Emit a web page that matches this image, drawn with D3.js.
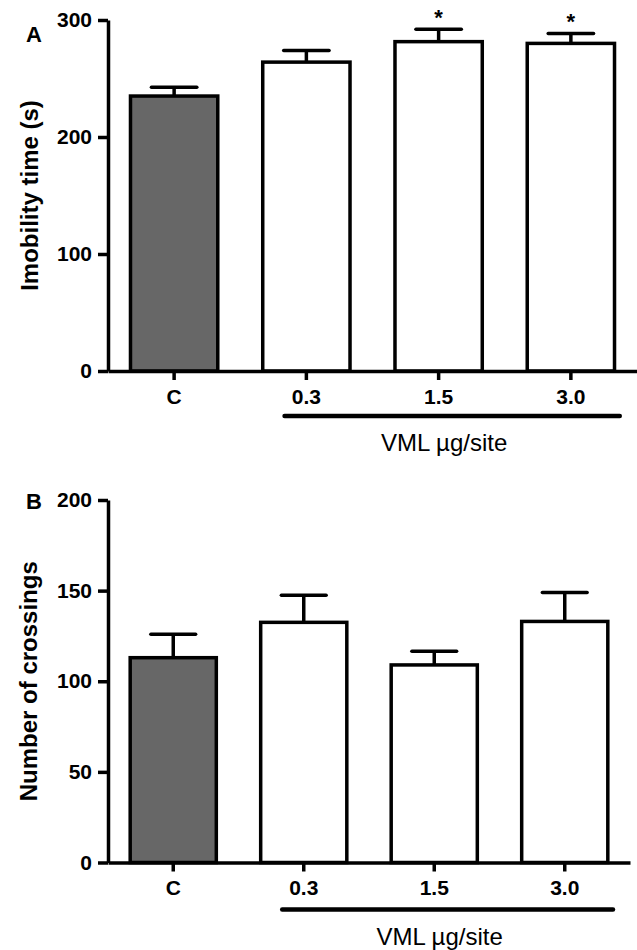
<!DOCTYPE html>
<html>
<head>
<meta charset="utf-8">
<script src="https://cdn.jsdelivr.net/npm/d3@7"></script>
<style>
  body { margin: 0; background: #fff; }
  svg { display: block; font-family: Arial, "Liberation Sans", sans-serif; }
</style>
</head>
<body>
<div id="chart"></div>
<script>
// groups along the x axis
const groups = ['C', '0.3', '1.5', '3.0'];

// panel A: immobility time (s)
const immobilityMean = [235, 264, 281.5, 280];
const immobilitySem = [7.5, 10, 10.5, 8.5];
const immobilityStars = ['', '', '*', '*'];
const immobilityTicks = [0, 100, 200, 300];

// panel B: number of crossings
const crossingsMean = [113, 132.5, 109, 133];
const crossingsSem = [13, 15, 7.5, 16];
const crossingsStars = ['', '', '', ''];
const crossingsTicks = [0, 50, 100, 150, 200];

const width = 637;
const height = 950;

const svg = d3.select('#chart')
    .append('svg')
    .attr('width', width)
    .attr('height', height);

function drawPanel(opts) {
    const g = svg.append('g');

    const x = d3.scaleBand()
        .domain(groups)
        .range([opts.left, opts.right])
        .paddingInner(0.34)
        .paddingOuter(0.17);

    const y = d3.scaleLinear()
        .domain([0, opts.max])
        .range([opts.bottom, opts.top]);

    const data = groups.map((k, i) => ({
        key: k, mean: opts.mean[i], sem: opts.sem[i], star: opts.stars[i]
    }));

    // bars
    g.selectAll('.bar')
        .data(data)
        .enter()
        .append('rect')
        .attr('class', 'bar')
        .attr('x', d => x(d.key))
        .attr('y', d => y(d.mean))
        .attr('width', x.bandwidth())
        .attr('height', d => y(0) - y(d.mean))
        .attr('fill', d => d.key === 'C' ? '#676767' : '#fff')
        .attr('stroke', '#000')
        .attr('stroke-width', 3.5);

    // error bars (upper only)
    const capW = x.bandwidth() * 0.52;
    data.forEach(d => {
        const cx = x(d.key) + x.bandwidth() / 2;
        g.append('line')
            .attr('x1', cx).attr('x2', cx)
            .attr('y1', y(d.mean)).attr('y2', y(d.mean + d.sem))
            .attr('stroke', '#000').attr('stroke-width', 3.5);
        g.append('line')
            .attr('x1', cx - capW / 2).attr('x2', cx + capW / 2)
            .attr('y1', y(d.mean + d.sem)).attr('y2', y(d.mean + d.sem))
            .attr('stroke', '#000').attr('stroke-width', 3.5)
            .attr('stroke-linecap', 'round');
        if (d.star) {
            g.append('text')
                .attr('x', cx)
                .attr('y', y(d.mean + d.sem) - 4)
                .attr('text-anchor', 'middle')
                .attr('font-size', 22)
                .attr('font-weight', 'bold')
                .text(d.star);
        }
    });

    // y axis
    const yAxis = g.append('g')
        .attr('transform', `translate(${opts.left},0)`)
        .call(d3.axisLeft(y).tickValues(opts.ticks).tickSize(10).tickSizeOuter(0).tickPadding(6));

    // x axis
    const xAxis = g.append('g')
        .attr('transform', `translate(0,${opts.bottom})`)
        .call(d3.axisBottom(x).tickSize(9).tickSizeOuter(0).tickPadding(9));

    [yAxis, xAxis].forEach(a => {
        a.select('.domain').attr('stroke', '#000').attr('stroke-width', 3.5);
        a.selectAll('.tick line').attr('stroke', '#000').attr('stroke-width', 3.5);
        a.selectAll('.tick text')
            .attr('fill', '#000')
            .attr('font-size', 21)
            .attr('font-weight', 'bold')
            .attr('font-family', 'Arial, "Liberation Sans", sans-serif');
    });

    // bracket under the VML doses
    const bx1 = x('0.3') + x.bandwidth() * 0.25;
    const bx2 = x('3.0') + x.bandwidth() * 1.06;
    g.append('line')
        .attr('x1', bx1).attr('x2', bx2)
        .attr('y1', opts.bottom + opts.bracketGap).attr('y2', opts.bottom + opts.bracketGap)
        .attr('stroke', '#000').attr('stroke-width', 4.5)
        .attr('stroke-linecap', 'round');

    g.append('text')
        .attr('x', (bx1 + bx2) / 2 - 8)
        .attr('y', opts.bottom + opts.bracketGap + 35)
        .attr('text-anchor', 'middle')
        .attr('font-size', 24)
        .text('VML \u00b5g/site');

    // y axis title
    g.append('text')
        .attr('transform', `translate(${opts.titleX},${(opts.top + opts.bottom) / 2}) rotate(-90)`)
        .attr('text-anchor', 'middle')
        .attr('font-size', 24)
        .attr('font-weight', 'bold')
        .text(opts.title);

    // panel letter
    g.append('text')
        .attr('x', 26)
        .attr('y', opts.letterY)
        .attr('font-size', 22)
        .attr('font-weight', 'bold')
        .text(opts.letter);
}

drawPanel({
    letter: 'A', letterY: 42,
    title: 'Imobility time (s)', titleX: 38,
    mean: immobilityMean, sem: immobilitySem, stars: immobilityStars,
    ticks: immobilityTicks, max: 300,
    left: 108, right: 637, top: 20, bottom: 371,
    bracketGap: 45
});

drawPanel({
    letter: 'B', letterY: 509,
    title: 'Number of crossings', titleX: 37,
    mean: crossingsMean, sem: crossingsSem, stars: crossingsStars,
    ticks: crossingsTicks, max: 200,
    left: 108, right: 630, top: 500, bottom: 862.5,
    bracketGap: 47
});
</script>
</body>
</html>
